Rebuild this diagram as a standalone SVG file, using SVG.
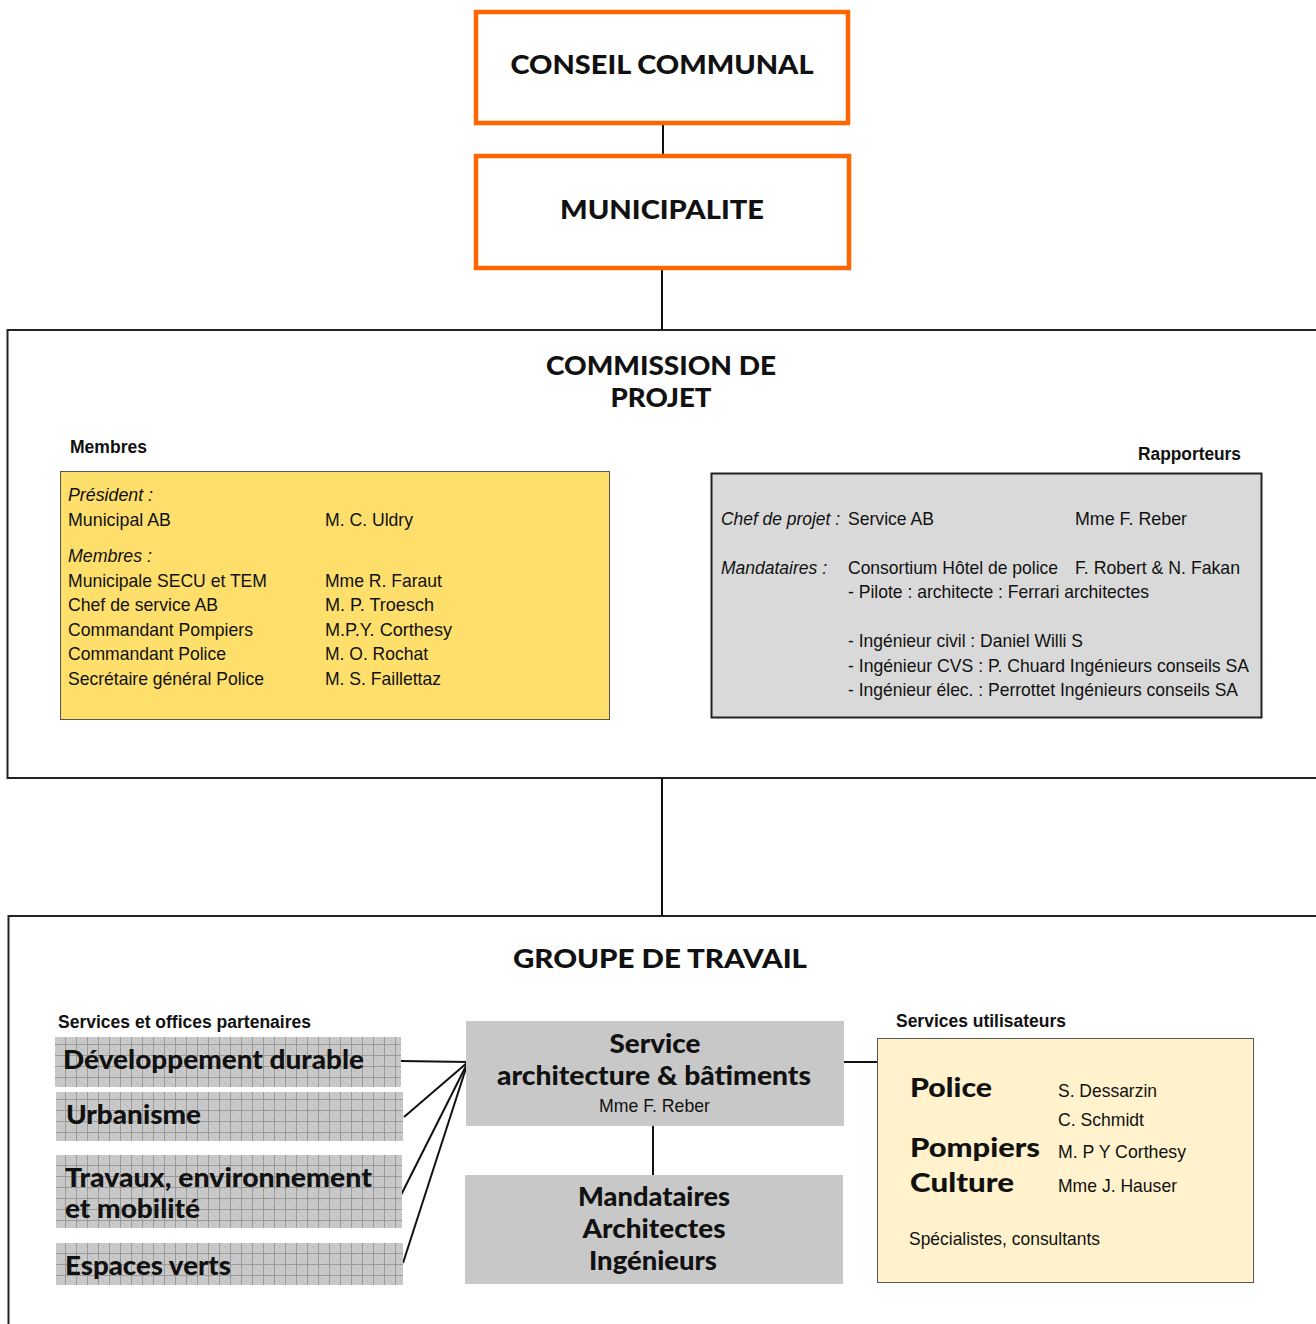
<svg xmlns="http://www.w3.org/2000/svg" width="1316" height="1324" viewBox="0 0 1316 1324">
<style>
.hd{font-family:Lato,"Open Sans","Liberation Sans",sans-serif;font-weight:900;fill:#111}
.nw{font-family:"Liberation Sans Narrow","Arial Narrow","Liberation Sans",sans-serif;fill:#111}
.it{font-style:italic}
.bd{font-weight:bold}
.orange{fill:#fff;stroke:#FF6600;stroke-width:4.5}
.frame{fill:#fff;stroke:#222;stroke-width:2}
.conn{stroke:#111;stroke-width:2;fill:none}
</style>
<defs>
<pattern id="grid" width="11" height="11" patternUnits="userSpaceOnUse">
<rect width="11" height="11" fill="#c9c9c9"/>
<rect x="0" y="0" width="1" height="1" fill="#b5b5b5"/>
<rect x="2" y="2" width="1" height="1" fill="#b5b5b5"/>
<rect x="4" y="4" width="1" height="1" fill="#b5b5b5"/>
<rect x="6" y="6" width="1" height="1" fill="#b5b5b5"/>
<rect x="8" y="8" width="1" height="1" fill="#b5b5b5"/>
<path d="M10.5 0V11M0 10.5H11" stroke="#9a9a9a" stroke-width="1"/>
</pattern>
</defs>

<g id="commission-frame">
<rect class="frame" x="7.5" y="330" width="1320" height="448"/>
</g>
<g id="groupe-frame">
<rect class="frame" x="8.5" y="916" width="1320" height="420"/>
</g>

<g id="connectors">
<line class="conn" x1="663" y1="123" x2="663" y2="156"/>
<line class="conn" x1="662" y1="268" x2="662" y2="330"/>
<line class="conn" x1="662" y1="778" x2="662" y2="916"/>
<line class="conn" x1="653" y1="1126" x2="653" y2="1175"/>
<line class="conn" x1="844" y1="1062" x2="877" y2="1062"/>
<line class="conn" x1="401" y1="1061" x2="468" y2="1062"/>
<line class="conn" x1="404" y1="1117" x2="468" y2="1062"/>
<line class="conn" x1="400" y1="1197" x2="468" y2="1062"/>
<line class="conn" x1="403" y1="1263" x2="468" y2="1062"/>
</g>

<g id="conseil">
<rect class="orange" x="476" y="12" width="372" height="111"/>
<text class="hd" x="662" y="74" font-size="26" text-anchor="middle" textLength="303" lengthAdjust="spacingAndGlyphs">CONSEIL COMMUNAL</text>
</g>

<g id="municipalite">
<rect class="orange" x="476" y="156" width="373" height="112"/>
<text class="hd" x="662" y="219" font-size="26" text-anchor="middle" textLength="204" lengthAdjust="spacingAndGlyphs">MUNICIPALITE</text>
</g>

<g id="commission">
<text class="hd" x="661" y="375" font-size="26" text-anchor="middle" textLength="230" lengthAdjust="spacingAndGlyphs">COMMISSION DE</text>
<text class="hd" x="661" y="407" font-size="26" text-anchor="middle" textLength="101" lengthAdjust="spacingAndGlyphs">PROJET</text>
<text class="nw bd" x="70" y="453" font-size="18" textLength="77" lengthAdjust="spacingAndGlyphs">Membres</text>
<text class="nw bd" x="1138" y="460" font-size="18" textLength="103" lengthAdjust="spacingAndGlyphs">Rapporteurs</text>
</g>

<g id="membres">
<rect x="60.5" y="471.5" width="549" height="248" fill="#FFDF6B" stroke="#555" stroke-width="1"/>
<g class="nw" font-size="19" lengthAdjust="spacingAndGlyphs">
<text class="it" x="68" y="501" textLength="85" lengthAdjust="spacingAndGlyphs">Président :</text>
<text x="68" y="526" textLength="103" lengthAdjust="spacingAndGlyphs">Municipal AB</text>
<text x="325" y="526" textLength="88" lengthAdjust="spacingAndGlyphs">M. C. Uldry</text>
<text class="it" x="68" y="562" textLength="84" lengthAdjust="spacingAndGlyphs">Membres :</text>
<text x="68" y="587" textLength="199" lengthAdjust="spacingAndGlyphs">Municipale SECU et TEM</text>
<text x="325" y="587" textLength="117" lengthAdjust="spacingAndGlyphs">Mme R. Faraut</text>
<text x="68" y="611" textLength="150" lengthAdjust="spacingAndGlyphs">Chef de service AB</text>
<text x="325" y="611" textLength="109" lengthAdjust="spacingAndGlyphs">M. P. Troesch</text>
<text x="68" y="636" textLength="185" lengthAdjust="spacingAndGlyphs">Commandant Pompiers</text>
<text x="325" y="636" textLength="127" lengthAdjust="spacingAndGlyphs">M.P.Y. Corthesy</text>
<text x="68" y="660" textLength="158" lengthAdjust="spacingAndGlyphs">Commandant Police</text>
<text x="325" y="660" textLength="103" lengthAdjust="spacingAndGlyphs">M. O. Rochat</text>
<text x="68" y="685" textLength="196" lengthAdjust="spacingAndGlyphs">Secrétaire général Police</text>
<text x="325" y="685" textLength="116" lengthAdjust="spacingAndGlyphs">M. S. Faillettaz</text>
</g>
</g>

<g id="rapporteurs">
<rect x="711.5" y="473.5" width="550" height="244" fill="#D9D9D9" stroke="#222" stroke-width="2"/>
<g class="nw" font-size="19">
<text class="it" x="721" y="525" textLength="119" lengthAdjust="spacingAndGlyphs">Chef de projet :</text>
<text x="848" y="525" textLength="86" lengthAdjust="spacingAndGlyphs">Service AB</text>
<text x="1075" y="525" textLength="112" lengthAdjust="spacingAndGlyphs">Mme F. Reber</text>
<text class="it" x="721" y="574" textLength="106" lengthAdjust="spacingAndGlyphs">Mandataires :</text>
<text x="848" y="574" textLength="210" lengthAdjust="spacingAndGlyphs">Consortium Hôtel de police</text>
<text x="1075" y="574" textLength="165" lengthAdjust="spacingAndGlyphs">F. Robert &amp; N. Fakan</text>
<text x="848" y="598" textLength="301" lengthAdjust="spacingAndGlyphs">- Pilote : architecte : Ferrari architectes</text>
<text x="848" y="647" textLength="235" lengthAdjust="spacingAndGlyphs">- Ingénieur civil : Daniel Willi S</text>
<text x="848" y="672" textLength="401" lengthAdjust="spacingAndGlyphs">- Ingénieur CVS : P. Chuard Ingénieurs conseils SA</text>
<text x="848" y="696" textLength="390" lengthAdjust="spacingAndGlyphs">- Ingénieur élec. : Perrottet Ingénieurs conseils SA</text>
</g>
</g>

<g id="groupe">
<text class="hd" x="660" y="968" font-size="26" text-anchor="middle" textLength="294" lengthAdjust="spacingAndGlyphs">GROUPE DE TRAVAIL</text>
<text class="nw bd" x="58" y="1028" font-size="18" textLength="253" lengthAdjust="spacingAndGlyphs">Services et offices partenaires</text>
<text class="nw bd" x="896" y="1027" font-size="18" textLength="170" lengthAdjust="spacingAndGlyphs">Services utilisateurs</text>
</g>

<g id="dev-durable">
<rect x="55" y="1037" width="346" height="50" fill="url(#grid)"/>
<text class="hd" x="63" y="1069" font-size="26" textLength="301" lengthAdjust="spacingAndGlyphs">Développement durable</text>
</g>
<g id="urbanisme">
<rect x="56" y="1092" width="347" height="49" fill="url(#grid)"/>
<text class="hd" x="66" y="1124" font-size="26" textLength="135" lengthAdjust="spacingAndGlyphs">Urbanisme</text>
</g>
<g id="travaux">
<rect x="56" y="1155" width="346" height="73" fill="url(#grid)"/>
<text class="hd" x="65" y="1187" font-size="26" textLength="307" lengthAdjust="spacingAndGlyphs">Travaux, environnement</text>
<text class="hd" x="65" y="1218" font-size="26" textLength="135" lengthAdjust="spacingAndGlyphs">et mobilité</text>
</g>
<g id="espaces-verts">
<rect x="56" y="1243" width="347" height="42" fill="url(#grid)"/>
<text class="hd" x="65" y="1275" font-size="26" textLength="166" lengthAdjust="spacingAndGlyphs">Espaces verts</text>
</g>

<g id="service-ab">
<rect x="466" y="1021" width="378" height="105" fill="#C8C8C8"/>
<text class="hd" x="655" y="1053" font-size="26" text-anchor="middle" textLength="91" lengthAdjust="spacingAndGlyphs">Service</text>
<text class="hd" x="654" y="1085" font-size="26" text-anchor="middle" textLength="314" lengthAdjust="spacingAndGlyphs">architecture &amp; bâtiments</text>
<text class="nw" x="599" y="1112" font-size="19" textLength="111" lengthAdjust="spacingAndGlyphs">Mme F. Reber</text>
</g>

<g id="mandataires">
<rect x="465" y="1175" width="378" height="109" fill="#C8C8C8"/>
<text class="hd" x="654" y="1206" font-size="26" text-anchor="middle" textLength="152" lengthAdjust="spacingAndGlyphs">Mandataires</text>
<text class="hd" x="654" y="1238" font-size="26" text-anchor="middle" textLength="143" lengthAdjust="spacingAndGlyphs">Architectes</text>
<text class="hd" x="653" y="1270" font-size="26" text-anchor="middle" textLength="128" lengthAdjust="spacingAndGlyphs">Ingénieurs</text>
</g>

<g id="utilisateurs">
<rect x="877.5" y="1038.5" width="376" height="244" fill="#FFF2CC" stroke="#555" stroke-width="1"/>
<text class="hd" x="910" y="1097" font-size="27" textLength="82" lengthAdjust="spacingAndGlyphs">Police</text>
<text class="hd" x="910" y="1157" font-size="27" textLength="130" lengthAdjust="spacingAndGlyphs">Pompiers</text>
<text class="hd" x="910" y="1192" font-size="27" textLength="104" lengthAdjust="spacingAndGlyphs">Culture</text>
<g class="nw" font-size="19">
<text x="1058" y="1097" textLength="99" lengthAdjust="spacingAndGlyphs">S. Dessarzin</text>
<text x="1058" y="1126" textLength="86" lengthAdjust="spacingAndGlyphs">C. Schmidt</text>
<text x="1058" y="1158" textLength="128" lengthAdjust="spacingAndGlyphs">M. P Y Corthesy</text>
<text x="1058" y="1192" textLength="119" lengthAdjust="spacingAndGlyphs">Mme J. Hauser</text>
<text x="909" y="1245" textLength="191" lengthAdjust="spacingAndGlyphs">Spécialistes, consultants</text>
</g>
</g>
</svg>
